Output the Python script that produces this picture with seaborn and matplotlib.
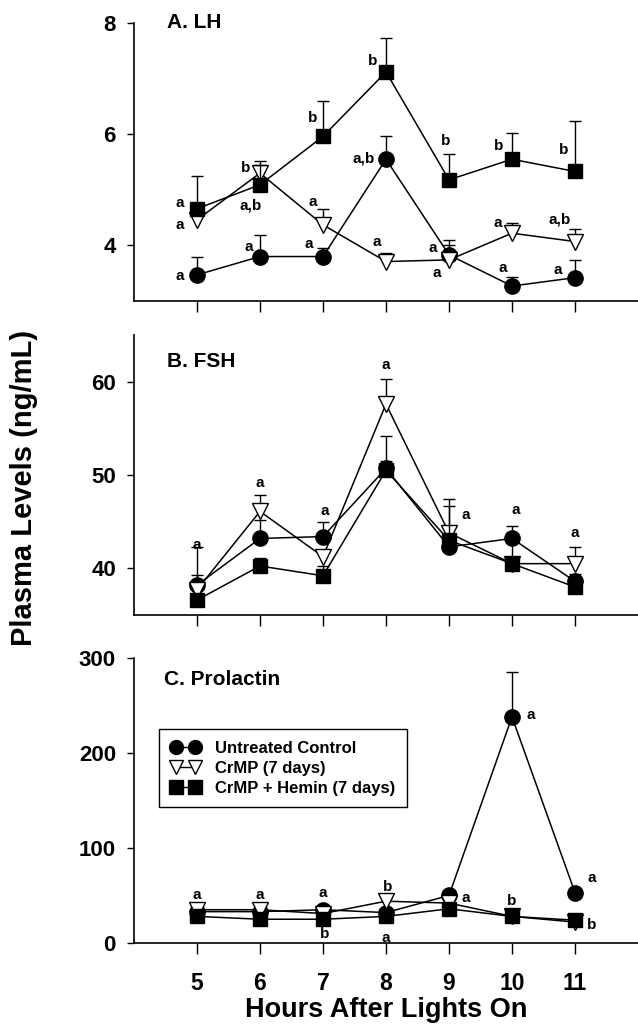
import numpy as np
import pandas as pd
import matplotlib
matplotlib.use("Agg")
import matplotlib.pyplot as plt
from matplotlib.lines import Line2D
import seaborn as sns

# hours after lights on
hours = [5, 6, 7, 8, 9, 10, 11]
groups = ["Untreated Control", "CrMP (7 days)", "CrMP + Hemin (7 days)"]

# A. LH (ng/mL), mean and SEM
lh_ctrl = [3.47, 3.80, 3.80, 5.55, 3.83, 3.27, 3.42]
lh_ctrl_se = [0.33, 0.39, 0.15, 0.42, 0.26, 0.17, 0.31]
lh_crmp = [4.46, 5.30, 4.37, 3.71, 3.74, 4.22, 4.07]
lh_crmp_se = [0.05, 0.21, 0.28, 0.15, 0.27, 0.19, 0.22]
lh_hemin = [4.66, 5.09, 5.96, 7.12, 5.18, 5.55, 5.33]
lh_hemin_se = [0.58, 0.35, 0.64, 0.61, 0.47, 0.47, 0.91]

# B. FSH
fsh_ctrl = [38.2, 43.2, 43.4, 50.7, 42.3, 43.2, 38.6]
fsh_ctrl_se = [4.1, 2.0, 1.6, 3.5, 1.0, 1.3, 0.8]
fsh_crmp = [37.7, 46.1, 41.25, 57.6, 43.8, 40.5, 40.5]
fsh_crmp_se = [1.6, 1.8, 0.6, 2.7, 3.6, 0.5, 1.8]
fsh_hemin = [36.6, 40.25, 39.2, 50.5, 43.0, 40.5, 38.0]
fsh_hemin_se = [0.5, 0.85, 1.0, 1.0, 3.7, 2.3, 0.5]

# C. Prolactin
prl_ctrl = [33, 33, 35, 32, 50, 238, 53]
prl_ctrl_se = [3, 3, 3, 3, 4, 47, 4]
prl_crmp = [35, 35, 31, 44, 42, 28, 22]
prl_crmp_se = [2, 2, 2, 3, 3, 2, 2]
prl_hemin = [28, 25, 25, 28, 36, 28, 24]
prl_hemin_se = [2, 2, 2, 2, 3, 2, 2]

# significance letters: (hour, y, text)
lh_letters = [(4.73, 4.77, "a"), (4.73, 4.37, "a"), (4.73, 3.45, "a"),
              (5.77, 5.39, "b"), (5.85, 4.71, "a,b"), (5.82, 3.97, "a"),
              (6.84, 6.29, "b"), (6.84, 4.78, "a"), (6.77, 4.02, "a"),
              (7.79, 7.31, "b"), (7.65, 5.57, "a,b"), (7.86, 4.07, "a"),
              (8.95, 5.87, "b"), (8.75, 3.95, "a"), (8.81, 3.51, "a"),
              (9.79, 5.78, "b"), (9.77, 4.41, "a"), (9.86, 3.59, "a"),
              (10.82, 5.71, "b"), (10.76, 4.46, "a,b"), (10.73, 3.56, "a")]
fsh_letters = [(5.0, 42.5, "a"), (6.0, 49.1, "a"), (7.03, 46.1, "a"),
               (8.0, 61.8, "a"), (9.26, 45.7, "a"), (10.06, 46.25, "a"),
               (10.99, 43.8, "a")]
prl_letters = [(5.0, 50.7, "a"), (6.0, 50.7, "a"), (7.0, 52.4, "a"),
               (8.03, 59.4, "b"), (7.03, 9.8, "b"), (8.0, 5.2, "a"),
               (9.26, 47.2, "a"), (9.99, 43.7, "b"), (10.3, 240, "a"),
               (11.27, 68, "a"), (11.27, 19.2, "b")]

sns.set_style("ticks")
plt.rcParams["font.family"] = ["Liberation Sans", "DejaVu Sans"]
plt.rcParams["font.weight"] = "bold"
for key in ["text.color", "axes.labelcolor", "xtick.color", "ytick.color", "axes.edgecolor"]:
    plt.rcParams[key] = "black"

styles = {
    "Untreated Control": dict(marker="o", markerfacecolor="black", markersize=11),
    "CrMP (7 days)": dict(marker="v", markerfacecolor="white", markersize=11),
    "CrMP + Hemin (7 days)": dict(marker="s", markerfacecolor="black", markersize=10.5),
}

fig = plt.figure(figsize=(6.38, 10.26), dpi=100)
axA = fig.add_axes([0.21, 0.7066, 0.79, 0.2710])
axB = fig.add_axes([0.21, 0.4006, 0.79, 0.2729])
axC = fig.add_axes([0.21, 0.0809, 0.79, 0.2778])

panels = [
    (axA, "A. LH", [lh_ctrl, lh_crmp, lh_hemin], [lh_ctrl_se, lh_crmp_se, lh_hemin_se],
     (3, 8), [4, 6, 8], lh_letters, (0.066, 1.0)),
    (axB, "B. FSH", [fsh_ctrl, fsh_crmp, fsh_hemin], [fsh_ctrl_se, fsh_crmp_se, fsh_hemin_se],
     (35, 65), [40, 50, 60], fsh_letters, (0.066, 0.905)),
    (axC, "C. Prolactin", [prl_ctrl, prl_crmp, prl_hemin], [prl_ctrl_se, prl_crmp_se, prl_hemin_se],
     (0, 300), [0, 100, 200, 300], prl_letters, (0.06, 0.925)),
]

for ax, title, means, sems, ylim, yticks, letters, tpos in panels:
    for i, (g, m, se) in enumerate(zip(groups, means, sems)):
        df = pd.DataFrame({"hour": hours, "value": m})
        eb = ax.errorbar(hours, m, yerr=[np.zeros(len(se)), se], fmt="none",
                         ecolor="black", elinewidth=1, capsize=4, capthick=1,
                         zorder=2 + 2 * i)
        eb[1][0].set_visible(False)
        sns.lineplot(data=df, x="hour", y="value", color="black", linewidth=1.1,
                     markeredgecolor="black", markeredgewidth=1,
                     zorder=3 + 2 * i, ax=ax, **styles[g])
    for x, y, t in letters:
        ax.text(x, y, t, ha="center", va="center", fontsize=11, fontweight="bold")
    ax.text(tpos[0], tpos[1], title, transform=ax.transAxes, ha="left", va="center",
            fontsize=15, fontweight="bold")
    ax.set_xlim(4, 12)
    ax.set_ylim(*ylim)
    ax.set_yticks(yticks)
    ax.set_xticks(hours)
    ax.set_xlabel("")
    ax.set_ylabel("")
    sns.despine(ax=ax)
    for s in ["left", "bottom"]:
        ax.spines[s].set_linewidth(1.2)
    ax.tick_params(axis="y", length=5, width=1, labelsize=16, pad=8)
    ax.tick_params(axis="x", length=8, width=1, labelsize=16.5, pad=13)
    for lab in ax.get_yticklabels() + ax.get_xticklabels():
        lab.set_fontweight("bold")
    if ax is not axC:
        ax.tick_params(axis="x", labelbottom=False)

axC.set_xlabel("Hours After Lights On", fontsize=19.5, fontweight="bold", labelpad=1)

leg_styles = {g: dict(styles[g], markersize=10) for g in groups}
handles = [Line2D([], [], color="black", linewidth=1, markeredgecolor="black", **leg_styles[g])
           for g in groups]
leg = axC.legend(handles, groups, loc="upper left", bbox_to_anchor=(0.05, 0.751),
                 numpoints=2, handlelength=1.75, handletextpad=0.9, fancybox=False,
                 frameon=True, edgecolor="black", framealpha=1,
                 prop={"weight": "bold", "size": 12}, borderpad=0.7, labelspacing=0.3,
                 borderaxespad=0)
leg.get_frame().set_linewidth(1)

fig.text(0.038, 0.524, "Plasma Levels (ng/mL)", rotation=90, ha="center", va="center",
         fontsize=21, fontweight="bold")

fig.savefig("out.png", dpi=100)
